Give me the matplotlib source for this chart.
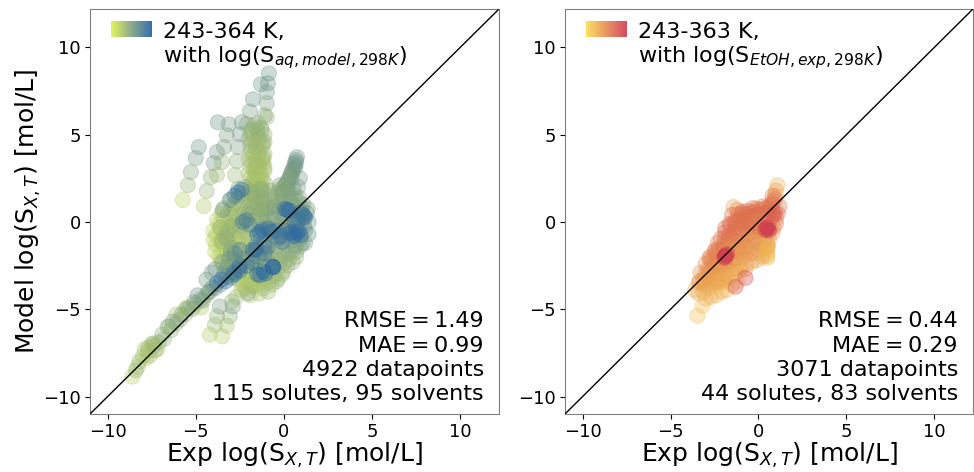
import numpy as np
import matplotlib
matplotlib.use("Agg")
import matplotlib.pyplot as plt
from matplotlib.colors import LinearSegmentedColormap

# Left panel: read-off points (exp, model, colour position)
a_x = [-4.83,-5.0,-5.28,-5.45,-5.74, -3.75,-3.13,-3.24,-3.4,-3.8,-3.98,-4.15,-4.38,-4.55,
       -2.39,-2.5,-2.61,-2.67,-2.78,-3.52,-3.8,
       -.85,-1.31,-.91,-.97,-1.76,-.97,-1.93,-1.08,-1.48,-.97]
a_y = [4.29,3.66,2.86,2.11,1.26, 5.71,5.6,4.97,4.29,4.0,3.37,2.57,1.77,.91,
       5.71,5.03,4.29,3.49,2.69,3.43,2.69,
       8.51,7.89,7.94,7.43,7.03,6.8,6.34,6.11,5.66,6.0]
a_t = [.55,.5,.4,.3,.1, .55,.5,.45,.45,.5,.5,.35,.3,.15,
       .55,.5,.45,.35,.25,.3,.25,
       .55,.55,.55,.5,.55,.45,.45,.4,.35,.3]

b_x = [-2.1,-1.7,-1.3,-1.9,-1.5,-1.1,-2.0,-1.7,-1.4,-1.1,-1.9,-1.6,-1.2,-1.9,-1.7,-1.4,-1.1,
       -2.0,-1.6,-1.2,-1.9,-1.6,-1.4,-1.1,-2.0,-1.6,-1.3,-1.9,-1.7,-1.5,-1.2,-1.9,-1.6,-1.3,
       -1.8,-1.5,-1.2,-1.9,-1.6,-1.3,-1.1,-1.7,-1.4,-1.2,-1.6,-1.3,-1.0,-1.5,-1.2,-.9,
       -1.85,-1.55,-1.25,-1.8,-1.5,-1.2,-1.8,-1.45,-1.15,-1.75,-1.45,-1.15,-1.7,-1.4,-1.1,-1.65,-1.35,-1.05]
b_y = [5.6,5.5,5.4,5.1,5.2,5.0,4.8,4.7,4.8,4.6,4.4,4.3,4.4,4.0,3.9,4.0,3.9,
       3.6,3.5,3.6,3.2,3.1,3.2,3.1,2.8,2.8,2.7,2.5,2.4,2.5,2.4,2.1,2.1,2.0,
       1.8,1.7,1.8,1.4,1.4,1.4,1.3,1.1,1.0,1.0,.7,.7,.7,.4,.4,.3,
       5.3,5.35,5.25,4.55,4.5,4.55,3.75,3.75,3.7,3.35,3.3,3.35,2.95,3.0,2.95,2.25,2.3,2.2]
b_t = [.4,.35,.3,.3,.3,.3,.35,.3,.3,.3,.3,.25,.3,.3,.25,.25,.25,
       .25,.25,.25,.25,.2,.2,.25,.2,.2,.2,.2,.2,.2,.25,.2,.2,.25,
       .2,.2,.25,.2,.25,.25,.3,.25,.25,.3,.25,.3,.3,.3,.3,.3,
       .3,.3,.3,.25,.25,.25,.2,.2,.25,.2,.2,.2,.2,.2,.2,.15,.15,.2]

c_x = [.74,.68,.6,.65,.5,.42,.35,.45,.25,.15,.05,.2,-.05,-.15,-.23,-.1,.9,.8,.55,.3,
       .7,.6,.5,.4,.3,.2,.1,0,-.1,-.2]
c_y = [3.71,3.55,3.35,3.1,3.0,2.85,2.6,2.5,2.35,2.2,2.05,1.85,1.8,1.6,2.1,1.3,2.5,2.0,1.9,1.5,
       3.4,3.2,2.9,2.7,2.5,2.35,2.15,1.95,1.75,1.9]
c_t = [.55,.55,.55,.55,.5,.5,.5,.45,.45,.45,.45,.45,.4,.4,.45,.4,.55,.5,.5,.45,
       .5,.5,.45,.45,.4,.4,.4,.35,.35,.35]

d_x = [-2.6,-2.2,-1.8,-1.3,-.8,-.3,.2,.6,-3.0,-2.6,-2.2,-1.7,-1.2,-.7,-.2,.3,.8,1.1,
       -3.4,-3.0,-2.6,-2.2,-1.8,-1.3,-.8,-.3,.2,.6,1.0,1.3,-3.8,-3.4,-3.0,-2.6,-2.1,-1.6,-1.1,-.6,-.1,.4,.9,1.4,
       -4.0,-3.6,-3.2,-2.8,-2.3,-1.8,-1.3,-.8,-.3,.2,.7,1.2,-4.0,-3.6,-3.1,-2.6,-2.1,-1.6,-1.1,-.6,-.1,.4,.9,1.2,
       -3.9,-3.5,-3.0,-2.5,-2.0,-1.5,-1.0,-.5,0,.5,.9,-3.6,-3.2,-2.7,-2.2,-1.7,-1.2,-.7,-.2,.3,.7,
       -3.3,-2.8,-2.3,-1.8,-1.3,-.8,-.3,.2,-2.6,-2.1,-1.6,-1.1,-.6,-.1,-2.2,-1.7,-1.2,-.7,-.4,-1.9,-1.4,-.9,
       -2.5,-2.0,-3.0,-1.0,-.5,0,.6,1.0,-3.5,-2.9,-2.4,-1.5,-.8,.4,
       -2.4,-2.0,-1.55,-1.05,-.55,-.05,.4,.85,-2.85,-2.4,-1.95,-1.45,-.95,-.45,.05,.55,1.0,1.35,
       -3.55,-3.15,-2.75,-2.35,-1.95,-1.5,-1.05,-.55,-.05,.4,.85,1.15,-3.7,-3.25,-2.85,-2.4,-1.85,-1.35,-.85,-.35,.15,.65,1.15,
       -3.85,-3.4,-3.0,-2.55,-2.05,-1.55,-1.05,-.55,-.05,.45,.95,1.4,-3.85,-3.35,-2.85,-2.35,-1.85,-1.35,-.85,-.35,.15,.65,1.05,
       -3.7,-3.25,-2.75,-2.25,-1.75,-1.25,-.75,-.25,.25,.7,-3.4,-2.95,-2.45,-1.95,-1.45,-.95,-.45,.05,.5,
       -2.95,-2.55,-2.05,-1.55,-1.05,-.55,-.05,-2.35,-1.85,-1.35,-.85,-.35,-3.2,-3.0,-2.7,-3.6,-3.3,-3.0,-3.5,-3.2,-2.9]
d_y = [1.9,2.0,1.7,1.9,1.8,1.7,1.9,1.6,1.3,1.4,1.2,1.4,1.2,1.3,1.1,1.3,1.2,1.0,
       .8,.7,.9,.6,.8,.7,.8,.6,.8,.6,.7,.5,.1,.2,0,.2,.1,.2,0,.2,0,.1,.2,0,
       -.5,-.4,-.6,-.4,-.6,-.4,-.6,-.5,-.4,-.6,-.4,-.5,-1.0,-1.1,-.9,-1.1,-1.0,-1.2,-1.0,-1.1,-.9,-1.1,-1.0,-1.2,
       -1.7,-1.6,-1.8,-1.6,-1.7,-1.6,-1.8,-1.6,-1.7,-1.6,-1.4,-2.2,-2.3,-2.1,-2.3,-2.2,-2.3,-2.1,-2.2,-2.1,-2.0,
       -2.8,-2.7,-2.9,-2.8,-2.7,-2.8,-2.6,-2.5,-3.3,-3.4,-3.2,-3.3,-3.1,-3.0,-3.8,-3.7,-3.8,-3.6,-3.4,-4.2,-4.1,-4.0,
       -.2,.5,.4,-.3,.9,.3,-.1,.4,-1.2,-1.5,-2.0,-2.5,-2.4,-.9,
       1.6,1.7,1.5,1.6,1.5,1.5,1.5,1.4,1.0,1.0,.95,1.0,1.0,.95,.9,.95,.85,.75,
       .45,.5,.4,.45,.4,.45,.35,.4,.35,.4,.45,.3,-.15,-.2,-.1,-.25,-.15,-.2,-.25,-.15,-.2,-.15,-.25,
       -.75,-.8,-.7,-.85,-.8,-.85,-.75,-.85,-.8,-.75,-.8,-.7,-1.3,-1.4,-1.35,-1.3,-1.4,-1.45,-1.35,-1.4,-1.3,-1.35,-1.2,
       -1.95,-1.9,-2.0,-1.95,-1.9,-2.0,-1.9,-1.95,-1.85,-1.7,-2.5,-2.5,-2.55,-2.5,-2.55,-2.45,-2.4,-2.35,-2.3,
       -3.05,-3.0,-3.1,-3.0,-3.0,-2.95,-2.85,-3.55,-3.5,-3.55,-3.45,-3.25,-1.0,-1.7,-2.3,-.3,-.9,-1.5,-1.1,-.5,-.2]
d_t = [.4,.4,.35,.4,.4,.4,.45,.4,.2,.3,.3,.35,.4,.35,.4,.45,.45,.5,
       .15,.2,.25,.3,.35,.4,.4,.45,.5,.5,.5,.55,.1,.15,.2,.25,.35,.35,.4,.5,.45,.5,.55,.6,
       .1,.12,.2,.25,.3,.4,.35,.55,.5,.5,.6,.6,.1,.12,.15,.2,.3,.35,.45,.4,.5,.55,.55,.5,
       .08,.1,.12,.2,.25,.3,.35,.4,.5,.5,.4,.08,.1,.12,.15,.2,.3,.35,.4,.4,.3,
       .1,.12,.15,.2,.25,.3,.35,.35,.15,.2,.25,.25,.3,.3,.2,.2,.25,.3,.3,.15,.2,.25,
       .45,.5,.4,.55,.6,.5,.5,.55,.2,.3,.3,.5,.4,.5,
       .3,.3,.3,.3,.35,.35,.4,.4,.25,.25,.3,.3,.3,.35,.35,.4,.4,.45,
       .12,.18,.2,.25,.3,.3,.35,.4,.4,.45,.5,.5,.1,.15,.15,.2,.25,.3,.35,.4,.45,.5,.5,
       .1,.12,.15,.2,.2,.3,.3,.35,.4,.5,.5,.55,.08,.1,.12,.15,.2,.25,.3,.35,.4,.5,.45,
       .08,.1,.1,.12,.15,.2,.25,.3,.35,.35,.08,.1,.1,.12,.15,.2,.25,.3,.3,
       .1,.1,.12,.15,.15,.2,.25,.1,.12,.15,.2,.25,.35,.4,.45,.3,.35,.4,.3,.3,.35]

e_x = [-2.6,-2.4,-2.8,-3.07,-3.47,-1.36,-1.2,-1.5,.74,.85,.6,1.08,1.2,.95,.17,.3,.05,-2.33,-2.15,-1.76,-1.6,-.63,-.63,-.6,
       -1.5,-1.35,-1.15,-1.05,-2.6,-2.5,-2.85,-3.2,-.9,-.7,-.45,.35,.5,.95,1.15,-.2,.05,-1.95,-1.1,-.95,-.3,-.1,.6,.8]
e_y = [1.7,1.85,1.5,1.26,.69,-.57,-.45,-.7,-.63,-.5,-.8,.4,.25,.55,.69,.65,.75,0,.1,-1.6,-1.45,-2.57,-2.55,-2.6,
       -3.0,-3.05,-2.85,-2.95,-2.7,-2.5,-2.9,-3.1,-.4,-.55,-.5,-.65,-.55,-.75,.3,-.8,-.5,-.15,-1.3,-1.45,-.9,-1.15,.1,.05]
e_t = [.95,.9,.85,.7,.6,1,.95,1,1,.95,1,.9,.85,.85,1,1,.95,.85,.8,.95,.85,1,1,1,
       1,.95,1,.95,.9,.85,.85,.75,.9,.9,.85,.95,.9,.9,.8,.9,.85,.75,.8,.85,.8,.8,.8,.8]

f_x = [-8.6,-8.3,-8.0,-7.7,-7.9,-7.4,-7.1,-7.5,-6.8,-6.4,-6.1,-6.5,-5.9,-5.6,-5.2,-5.5,-5.0,-4.7,-4.4,-4.7,-4.2,-3.9,-3.6,
       -3.3,-3.0,-3.4,-2.8,-2.5,-3.2,-2.1,-1.8,-2.3,-1.4,-1.1,-1.6,-3.9,-3.5,-3.1,-2.8,-2.5,-4.4,-4.1,-5.6,-6.1,-7.2,-7.8,
       -4.2,-3.5,-3.24,-3.92,-3.8,-3.07,-3.64,-2.9,-2.05,-2.4,-2.1,-1.85,-1.5,-1.25,-2.7,-2.95,
       -5.8,-5.4,-5.1,-4.9,-4.6,-4.3,-4.05,-3.8,-3.55,-6.9,-6.6,-6.3,-7.7,-7.4,-8.2,-8.4,-7.6,-7.3]
f_y = [-8.86,-8.3,-7.7,-7.4,-7.3,-7.1,-6.9,-7.0,-6.7,-6.2,-5.8,-6.0,-5.6,-5.3,-5.0,-4.9,-4.7,-4.4,-4.2,-4.9,-4.0,-3.8,-3.6,
       -3.4,-3.2,-3.0,-3.0,-2.8,-2.6,-2.5,-2.3,-2.1,-2.0,-1.8,-1.6,-2.7,-2.3,-2.1,-1.8,-1.6,-3.3,-2.9,-5.0,-5.3,-7.3,-7.8,
       -6.46,-6.55,-5.94,-5.89,-5.4,-5.4,-4.84,-4.84,-4.1,-3.9,-3.7,-3.65,-3.45,-3.2,-4.3,-4.55,
       -5.3,-4.95,-4.6,-4.2,-4.5,-4.0,-3.75,-3.5,-3.3,-6.45,-6.0,-5.7,-7.2,-6.95,-8.0,-8.5,-7.65,-7.35]
f_t = [.1,.15,.25,.35,.2,.45,.35,.2,.3,.3,.35,.15,.35,.3,.35,.15,.35,.4,.3,.15,.4,.45,.55,
       .8,.8,.6,.9,.9,.55,.95,.95,.7,.85,.9,.95,.55,.55,.55,.65,.75,.5,.5,.2,.2,.15,.1,
       .12,.12,.2,.25,.3,.35,.45,.5,.45,.2,.15,.2,.15,.2,.25,.3,
       .4,.45,.45,.55,.5,.5,.6,.85,.95,.35,.4,.45,.2,.25,.25,.3,.2,.25]

# Right panel: read-off points
g_x = [1.08,1.0,.95,.85,.8,.7,.55,.4,.25,.1,-.1,-.3,-.6,-.9,-1.2,-1.42,-1.5,-.85,-.6,-.2,
       1.2,1.1,1.0,.85,.7,.5,.3,.1,-.1,-.4,-.7,-1.0,-1.3,-1.6,-1.9,-1.7,
       1.0,.85,.65,.4,.15,-.1,-.35,-.6,-.9,-1.15,-1.4,-1.7,-2.0,-2.3,-2.0,-2.45,
       .8,.6,.35,.1,-.15,-.4,-.7,-.95,-1.2,-1.5,-1.8,-2.1,-2.4,-2.7,-2.55,-2.85,
       .55,.3,.05,-.2,-.45,-.75,-1.0,-1.3,-1.55,-1.85,-2.15,-2.45,-2.75,-3.05,-3.3,
       .5,.5,.5,.5,.5,.5,.2,-.1,-.4,-.7,-1.0,-1.3,-1.6,-1.9,-2.2,-2.5,-2.8,-3.1,-3.4,-3.6,
       -.75,-1.05,-1.35,-1.65,-1.95,-2.25,-2.55,-2.85,-3.15,-3.4,-1.2,-1.5,-1.8,-2.1,-2.4,-2.7,-3.0,
       .95,.8,.65,.5,.3,.1,-.1,-.3,-.55,-.8,-1.05,-1.3,-1.15,-.95,-.7,-.45,-.2,.05,.3,.55,.75,
       .6,.35,.1,-.15,-.4,-.65,-.9,-1.15,-1.4,-1.65,-1.9,-2.15,-1.9,-1.65,-1.4,-1.15,-.9,-.65,-.4,-.15,.1,
       -.25,-.5,-.75,-1.0,-1.25,-1.5,-1.75,-2.0,-2.25,-2.5,-2.75,-3.0,-2.8,-2.55,-2.3,-2.05,-1.8,-1.55,-1.3,-1.05,-.8,
       -1.4,-1.65,-1.9,-2.15,-2.4,-2.65,-2.9,-3.15,-3.35,-3.1,-2.85,-2.6,-2.35,-2.1,-1.85]
g_y = [2.11,1.8,1.5,1.2,1.5,1.0,.7,.8,.9,.7,.75,.8,.65,.6,.7,.86,.4,.2,.1,.3,
       .9,.5,.2,.6,.25,.3,.1,-.1,.2,-.1,-.2,-.1,-.3,-.2,-.6,-1.0,
       -.1,-.3,-.4,-.5,-.6,-.5,-.6,-.7,-.9,-.8,-1.1,-1.0,-1.3,-1.2,-1.6,-1.6,
       -.6,-1.0,-1.1,-1.2,-1.2,-1.4,-1.4,-1.6,-1.5,-1.7,-1.8,-1.9,-1.8,-2.2,-2.6,-2.7,
       -1.4,-1.5,-1.6,-1.8,-1.8,-1.9,-2.1,-2.1,-2.3,-2.3,-2.5,-2.4,-2.8,-3.0,-2.9,
       -1.2,-1.4,-1.6,-1.8,-1.95,-2.06,-2.0,-2.2,-2.3,-2.4,-2.6,-2.7,-2.8,-3.0,-3.0,-3.2,-3.3,-3.4,-3.5,-3.9,
       -2.7,-2.8,-3.0,-3.2,-3.4,-3.5,-3.7,-3.8,-4.0,-4.1,-3.4,-3.6,-3.9,-4.0,-4.2,-4.3,-4.4,
       1.3,1.05,.85,.55,.45,.35,.4,.35,.3,.3,.1,.05,.45,.5,.45,.55,.6,.5,.4,.35,.6,
       -.2,-.3,-.35,-.25,-.3,-.4,-.45,-.4,-.55,-.75,-.9,-.95,-.35,-.1,-.05,.05,.0,.1,0,.05,.1,
       -.95,-1.0,-1.0,-1.1,-1.2,-1.25,-1.4,-1.5,-1.55,-1.7,-2.0,-2.4,-2.1,-2.15,-2.05,-1.9,-1.6,-1.5,-1.7,-1.75,-1.6,
       -2.1,-2.2,-2.4,-2.55,-2.7,-2.9,-3.1,-3.3,-3.4,-3.6,-3.5,-3.45,-3.4,-3.3,-3.1]
g_t = [.2,.3,.35,.45,.5,.5,.6,.6,.6,.55,.5,.55,.6,.55,.5,.25,.6,.55,.6,.5,
       .55,.6,.5,.55,.6,.55,.5,.45,.55,.5,.55,.6,.55,.6,.6,.5,
       .5,.45,.4,.45,.4,.35,.5,.5,.45,.55,.55,.5,.55,.45,.55,.5,
       .4,.3,.4,.35,.3,.35,.4,.45,.4,.5,.5,.55,.5,.5,.45,.45,
       .3,.35,.3,.3,.4,.35,.4,.4,.45,.45,.4,.45,.4,.4,.35,
       .2,.2,.15,.15,.15,.1,.25,.25,.3,.3,.25,.3,.35,.3,.35,.3,.3,.35,.3,.2,
       .25,.2,.25,.2,.25,.2,.2,.2,.2,.2,.15,.15,.15,.2,.15,.2,.2,
       .5,.55,.55,.6,.6,.55,.6,.6,.6,.55,.55,.6,.6,.6,.6,.55,.6,.6,.55,.55,.55,
       .45,.45,.5,.5,.5,.55,.55,.55,.6,.6,.6,.55,.6,.6,.6,.55,.55,.6,.55,.5,.5,
       .4,.35,.4,.45,.45,.5,.5,.5,.55,.5,.5,.45,.45,.45,.45,.4,.4,.35,.35,.35,.3,
       .3,.3,.35,.3,.35,.35,.3,.35,.35,.25,.25,.25,.25,.25,.25]
h_x = [.51,.45,.6,.4,.55,-1.88,-1.78,-1.95,-1.85,-1.9,-.74,-1.3,-3.47,-3.18,.95,.85]
h_y = [-.4,-.3,-.5,-.45,-.35,-1.94,-1.85,-2.0,-1.9,-2.05,-3.2,-3.71,-5.37,-4.8,.5,.35]
h_t = [1,1,1,1,1,1,1,1,1,1,.9,.85,.1,.1,.75,.75]

xlim = (-11, 12.2)
ylim = (-11, 12.2)
ticks = [-10, -5, 0, 5, 10]
labels = ["RMSE\u2009=\u20091.49\nMAE\u2009=\u20090.99\n4922 datapoints\n115 solutes, 95 solvents",
          "RMSE\u2009=\u20090.44\nMAE\u2009=\u20090.29\n3071 datapoints\n44 solutes, 83 solvents"]
titles = ["243-364 K,\nwith log(S$_{aq,model,298K}$)",
          "243-363 K,\nwith log(S$_{EtOH,exp,298K}$)"]

cmap_l = LinearSegmentedColormap.from_list("l", ["#e2f24a", "#7fa07f", "#1f5fa6"])
cmap_r = LinearSegmentedColormap.from_list("r", ["#fbdd4f", "#e58a50", "#cf3850"])

W, H = 974, 472
fig = plt.figure(figsize=(W / 100, H / 100), dpi=100)
ax_l = fig.add_axes([90 / W, 1 - 414 / H, 409 / W, 405 / H])
ax_r = fig.add_axes([565 / W, 1 - 414 / H, 408 / W, 405 / H])

left_x = a_x + b_x + c_x + d_x + f_x + e_x
left_y = a_y + b_y + c_y + d_y + f_y + e_y
left_t = a_t + b_t + c_t + d_t + f_t + e_t
right_x = g_x + h_x
right_y = g_y + h_y
right_t = g_t + h_t

panels = [(ax_l, left_x, left_y, left_t, cmap_l, -0.15, 1.0),
          (ax_r, right_x, right_y, right_t, cmap_r, -0.1, 0.95)]
for i, (ax, x, y, t, cmap, lo, hi) in enumerate(panels):
    ax.scatter(x, y, c=t, cmap=cmap, vmin=lo, vmax=hi, s=118, alpha=0.33, linewidths=0.7, zorder=2)
    ax.plot(xlim, ylim, color="black", lw=1, zorder=3)
    ax.set_xlim(xlim)
    ax.set_ylim(ylim)
    ax.set_xticks(ticks)
    ax.set_yticks(ticks)
    ax.set_xticklabels([str(v).replace("-", "\u2212") for v in ticks])
    ax.set_yticklabels([str(v).replace("-", "\u2212") for v in ticks])
    ax.tick_params(labelsize=13, length=3.5, width=0.8, pad=3)
    for s in ax.spines.values():
        s.set_color("#808080")
    ax.set_xlabel("Exp log(S$_{X,T}$) [mol/L]", fontsize=18, labelpad=0)
    ax.text(0.963, 0.024, labels[i], transform=ax.transAxes, ha="right", va="bottom",
            multialignment="right", fontsize=16, linespacing=1.27)
    ax.text(0.178, 0.968, titles[i], transform=ax.transAxes, ha="left", va="top",
            fontsize=16, linespacing=1.15)
    inset = ax.inset_axes([21 / 409, 1 - 28 / 405, 41 / 409, 16 / 405])
    inset.imshow(np.linspace(0, 1, 64)[None, :], aspect="auto", cmap=cmap, alpha=0.9)
    inset.axis("off")
ax_l.set_ylabel("Model log(S$_{X,T}$) [mol/L]", fontsize=18, labelpad=0)

fig.savefig("out.png", dpi=100)
